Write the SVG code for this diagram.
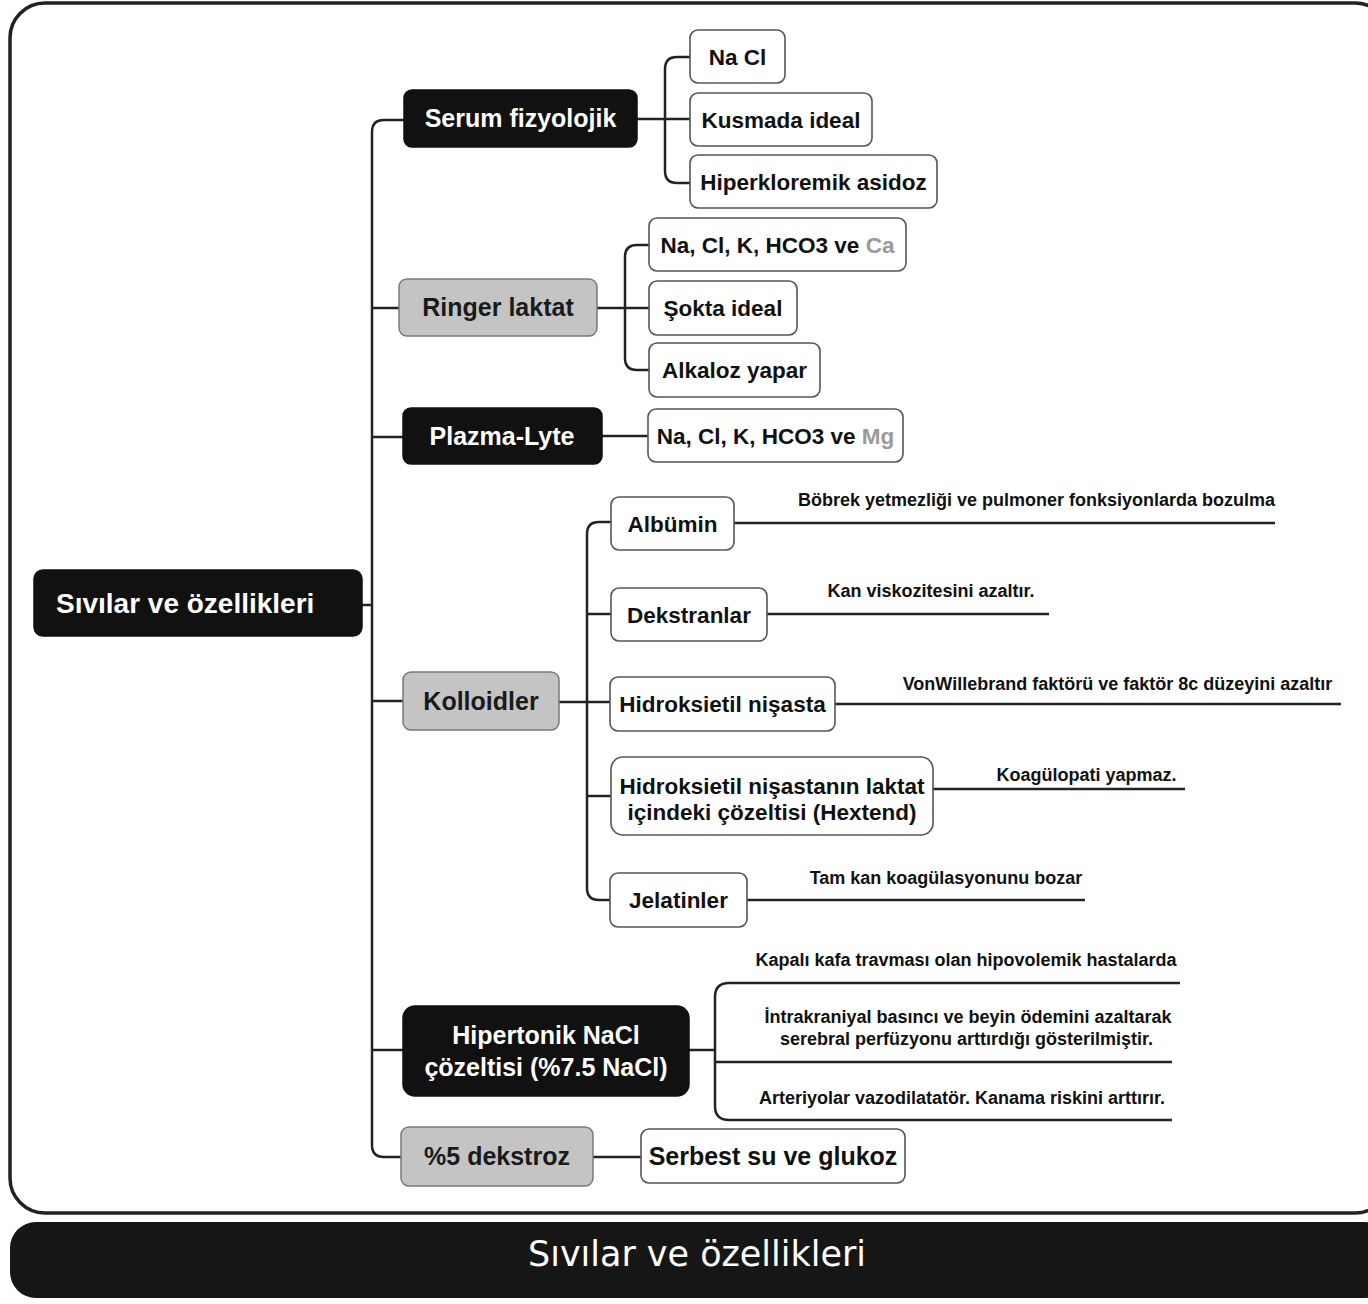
<svg xmlns="http://www.w3.org/2000/svg" width="1368" height="1304" viewBox="0 0 1368 1304">
<style>
  text { font-family: "Liberation Sans", Arial, sans-serif; font-weight: bold; }
  .l1 { font-size: 25px; text-anchor: middle; }
  .l2 { font-size: 22.5px; text-anchor: middle; fill: #111; }
  .ann { font-size: 18px; text-anchor: middle; fill: #111; }
  .wt { fill: #fff; }
  .dk { fill: #1a1a1a; }
  .bk { fill: #111; stroke: #111; stroke-width: 1.5; }
  .gr { fill: #c4c4c4; stroke: #7a7a7a; stroke-width: 1.5; }
  .wh { fill: #fff; stroke: #555; stroke-width: 1.6; }
  .conn path { fill: none; stroke: #222; stroke-width: 2.5; }
  .mute { fill: #9a9a9a; }
</style>

<rect x="10" y="3" width="1380" height="1210" rx="35" fill="#fff" stroke="#222" stroke-width="3.5"/>
<g id="footer">
  <rect x="10" y="1222" width="1380" height="76" rx="26" fill="#161616"/>
  <text x="697" y="1266" fill="#fff" style="font-family:'DejaVu Sans','Open Sans',sans-serif;font-weight:normal;font-size:36px;font-stretch:condensed" text-anchor="middle" textLength="338" lengthAdjust="spacingAndGlyphs">Sıvılar ve özellikleri</text>
</g>

<g id="connectors" class="conn">
  <path d="M404,120 H384 Q372,120 372,132 V1145 Q372,1157 384,1157 H401"/>
  <path d="M362,605 H372"/>
  <path d="M372,308 H399"/>
  <path d="M372,437 H403"/>
  <path d="M372,701 H403"/>
  <path d="M372,1050 H403"/>
  <path d="M637,119 H690"/>
  <path d="M690,57 H677 Q665,57 665,69 V171 Q665,183 677,183 H690"/>
  <path d="M597,308 H649"/>
  <path d="M649,245 H637 Q625,245 625,257 V358 Q625,370 637,370 H649"/>
  <path d="M602,436 H648"/>
  <path d="M559,702 H610"/>
  <path d="M611,522 H599 Q587,522 587,534 V888 Q587,900 599,900 H610"/>
  <path d="M587,614 H611"/>
  <path d="M587,796 H611"/>
  <path d="M734,523 H1275"/>
  <path d="M767,614 H1049"/>
  <path d="M835,704 H1341"/>
  <path d="M933,789 H1185"/>
  <path d="M747,900 H1085"/>
  <path d="M689,1050 H715"/>
  <path d="M1180,983 H729 Q715,983 715,997 V1106 Q715,1120 729,1120 H1172"/>
  <path d="M715,1062 H1172"/>
  <path d="M593,1157 H641"/>
</g>

<g id="root">
  <rect class="bk" x="34" y="570" width="328" height="66" rx="9"/>
  <text class="wt" x="56" y="613" style="font-size:28px">Sıvılar ve özellikleri</text>
</g>

<g id="serum">
  <rect class="bk" x="404" y="90" width="233" height="57" rx="8"/>
  <text class="l1 wt" x="520.5" y="127">Serum fizyolojik</text>
</g>
<g id="nacl"><rect class="wh" x="690" y="30" width="95" height="53" rx="8"/><text class="l2" x="737.5" y="64.5">Na Cl</text></g>
<g id="kusmada"><rect class="wh" x="690" y="93" width="182" height="53" rx="8"/><text class="l2" x="781" y="127.5">Kusmada ideal</text></g>
<g id="hiperkloremik"><rect class="wh" x="690" y="155" width="247" height="53" rx="8"/><text class="l2" x="813.5" y="189.5">Hiperkloremik asidoz</text></g>

<g id="ringer">
  <rect class="gr" x="399" y="279" width="198" height="57" rx="8"/>
  <text class="l1 dk" x="498" y="316">Ringer laktat</text>
</g>
<g id="ringer-ions"><rect class="wh" x="649" y="218" width="257" height="53" rx="8"/><text class="l2" x="777.5" y="252.5">Na, Cl, K, HCO3 ve <tspan class="mute">Ca</tspan></text></g>
<g id="sokta"><rect class="wh" x="649" y="281" width="148" height="54" rx="8"/><text class="l2" x="723" y="316">Şokta ideal</text></g>
<g id="alkaloz"><rect class="wh" x="649" y="343" width="171" height="54" rx="8"/><text class="l2" x="734.5" y="378">Alkaloz yapar</text></g>

<g id="plazma">
  <rect class="bk" x="403" y="408" width="199" height="56" rx="8"/>
  <text class="l1 wt" x="502" y="445">Plazma-Lyte</text>
</g>
<g id="plazma-ions"><rect class="wh" x="648" y="409" width="255" height="53" rx="8"/><text class="l2" x="775.5" y="443.5">Na, Cl, K, HCO3 ve <tspan class="mute">Mg</tspan></text></g>

<g id="kolloidler">
  <rect class="gr" x="403" y="672" width="156" height="58" rx="8"/>
  <text class="l1 dk" x="481" y="710">Kolloidler</text>
</g>
<g id="albumin"><rect class="wh" x="611" y="497" width="123" height="53" rx="8"/><text class="l2" x="672.5" y="531.5">Albümin</text></g>
<g id="albumin-note"><text class="ann" x="1036.5" y="506">Böbrek yetmezliği ve pulmoner fonksiyonlarda bozulma</text></g>
<g id="dekstranlar"><rect class="wh" x="611" y="588" width="156" height="53" rx="8"/><text class="l2" x="689" y="622.5">Dekstranlar</text></g>
<g id="dekstranlar-note"><text class="ann" x="931" y="597">Kan viskozitesini azaltır.</text></g>
<g id="hes"><rect class="wh" x="610" y="677" width="225" height="54" rx="8"/><text class="l2" x="722.5" y="712">Hidroksietil nişasta</text></g>
<g id="hes-note"><text class="ann" x="1117.5" y="690">VonWillebrand faktörü ve faktör 8c düzeyini azaltır</text></g>
<g id="hextend"><rect class="wh" x="611" y="757" width="322" height="78" rx="12"/><text class="l2" x="772" y="794">Hidroksietil nişastanın laktat</text><text class="l2" x="772" y="820">içindeki çözeltisi (Hextend)</text></g>
<g id="hextend-note"><text class="ann" x="1086.5" y="781">Koagülopati yapmaz.</text></g>
<g id="jelatinler"><rect class="wh" x="610" y="873" width="137" height="54" rx="8"/><text class="l2" x="678.5" y="908">Jelatinler</text></g>
<g id="jelatinler-note"><text class="ann" x="946" y="884">Tam kan koagülasyonunu bozar</text></g>

<g id="hipertonik">
  <rect class="bk" x="403" y="1006" width="286" height="90" rx="12"/>
  <text class="l1 wt" x="546" y="1044">Hipertonik NaCl</text>
  <text class="l1 wt" x="546" y="1076">çözeltisi (%7.5 NaCl)</text>
</g>
<g id="hipertonik-note1"><text class="ann" x="966" y="966">Kapalı kafa travması olan hipovolemik hastalarda</text></g>
<g id="hipertonik-note2"><text class="ann" x="968" y="1023">İntrakraniyal basıncı ve beyin ödemini azaltarak</text><text class="ann" x="966.5" y="1045">serebral perfüzyonu arttırdığı gösterilmiştir.</text></g>
<g id="hipertonik-note3"><text class="ann" x="962" y="1104">Arteriyolar vazodilatatör. Kanama riskini arttırır.</text></g>

<g id="dekstroz">
  <rect class="gr" x="401" y="1127" width="192" height="59" rx="8"/>
  <text class="l1 dk" x="497" y="1165">%5 dekstroz</text>
</g>
<g id="serbest"><rect class="wh" x="641" y="1129" width="264" height="54" rx="8"/><text class="l2" x="773" y="1165" style="font-size:25px">Serbest su ve glukoz</text></g>
</svg>
